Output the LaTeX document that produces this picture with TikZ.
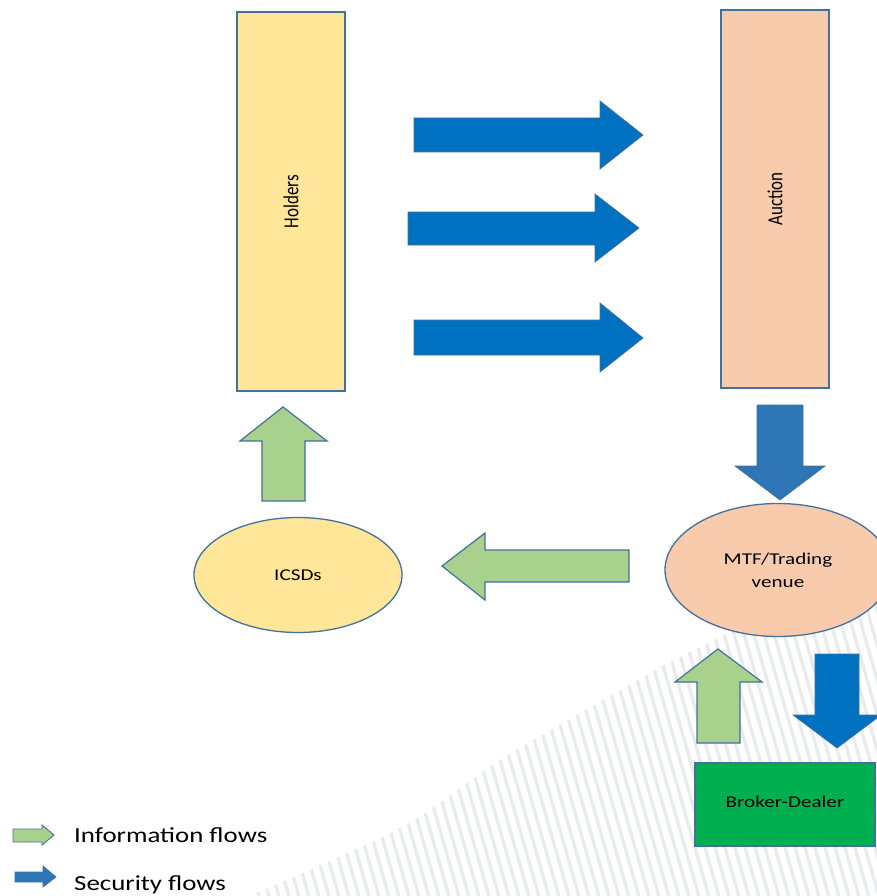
\documentclass[tikz,border=0pt]{standalone}
\usepackage{fontspec}
\setmainfont{Carlito}
\usepackage{graphicx}
\usetikzlibrary{shapes.geometric}
\definecolor{outl}{HTML}{41719C}
\definecolor{holdfill}{HTML}{FFE699}
\definecolor{aucfill}{HTML}{F8CBAD}
\definecolor{bdfill}{HTML}{00B050}
\definecolor{infofill}{HTML}{A9D18E}
\definecolor{secblue}{HTML}{0070C0}
\definecolor{secblueb}{HTML}{2E75B6}
\definecolor{stripecol}{RGB}{232,234,238}
\newcommand\wtext[1]{\scalebox{1.28}[1]{#1}}
\newcommand\vtext[1]{\rotatebox{90}{\scalebox{1.03}[1.3]{#1}}}
\begin{document}
\begin{tikzpicture}[x=1pt,y=-1pt,
  boxfont/.style={font=\fontsize{16.5}{23}\selectfont},
  rectbox/.style={draw=outl, line width=1.3pt, inner sep=0pt, boxfont},
  ellbox/.style={ellipse, draw=outl, line width=1.3pt, inner sep=0pt, boxfont, align=center},
  sflow/.style={fill=secblue, draw=outl, line width=0.7pt, line join=miter},
  sflowb/.style={fill=secblueb, draw=outl, line width=0.7pt, line join=miter},
  iflow/.style={fill=infofill, draw=outl, line width=1.2pt, line join=miter},
  stripe/.style={draw=stripecol, line width=3.2pt},
  legtext/.style={anchor=base west, inner sep=0pt, font=\fontsize{21.5}{24}\selectfont}
]
\useasboundingbox (0,0) rectangle (877,896);
\begin{scope}
\clip (0,0) rectangle (877,896);
% hatched background
\begin{scope}
\clip plot[smooth] coordinates {(240,900) (400,828) (500,760) (600,702) (680,657) (880,560)} -- (880,900) -- cycle;
\foreach \i in {0,...,76} { \draw[stripe] ({240+10*\i},900) -- ++(-100,-350); }
\end{scope}

% boxes
\node[rectbox, fill=holdfill, minimum width=108pt, minimum height=379pt] (holders) at (291,201.5) {\vtext{Holders}};
\node[rectbox, fill=aucfill, minimum width=108pt, minimum height=378pt] (auction) at (775,199) {\vtext{Auction}};
\node[ellbox, fill=holdfill, minimum width=208pt, minimum height=115pt] (icsds) at (298,575) {\wtext{ICSDs}};
\node[ellbox, fill=aucfill, minimum width=226pt, minimum height=133pt] (mtf) at (778,570) {\wtext{MTF/Trading}\\\wtext{venue}};
\node[rectbox, fill=bdfill, minimum width=180pt, minimum height=83pt, text depth=6pt] (bd) at (785,804.5) {\wtext{Broker-Dealer}};

% security flows (Holders -> Auction)
\path[sflow] (414,118) -- (600,118) -- (600,101) -- (643,135) -- (600,169) -- (600,152) -- (414,152) -- cycle;
\path[sflow] (408,212) -- (595,212) -- (595,194) -- (639,228) -- (595,262) -- (595,245) -- (408,245) -- cycle;
\path[sflow] (414,320) -- (600,320) -- (600,303) -- (643,338) -- (600,372) -- (600,355) -- (414,355) -- cycle;
% Auction -> MTF
\path[sflowb] (757,405) -- (803,405) -- (803,466) -- (825,466) -- (780,500) -- (735,466) -- (757,466) -- cycle;
% MTF -> Broker-Dealer
\path[sflow] (815,654) -- (859,654) -- (859,715) -- (881,715) -- (837,748) -- (793,715) -- (815,715) -- cycle;

% information flows
\path[iflow] (262,501) -- (262,441) -- (240,441) -- (283,407) -- (327,441) -- (305,441) -- (305,501) -- cycle;
\path[iflow] (629,550) -- (485,550) -- (485,533) -- (442,566) -- (485,600) -- (485,582) -- (629,582) -- cycle;
\path[iflow] (697,743) -- (697,682) -- (675,682) -- (718,649) -- (762,682) -- (740,682) -- (740,743) -- cycle;

% legend
\path[iflow, line width=0.9pt] (13,829) -- (42,829) -- (42,825) -- (54,835) -- (42,845) -- (42,842) -- (13,842) -- cycle;
\path[sflowb] (15,872) -- (43,872) -- (43,866) -- (56,877) -- (43,887) -- (43,882) -- (15,882) -- cycle;
\node[legtext] (leginfo) at (74,842) {\scalebox{1.25}[1]{Information flows}};
\node[legtext] (legsec) at (74,890) {\scalebox{1.25}[1]{Security flows}};
\end{scope}
\end{tikzpicture}
\end{document}
